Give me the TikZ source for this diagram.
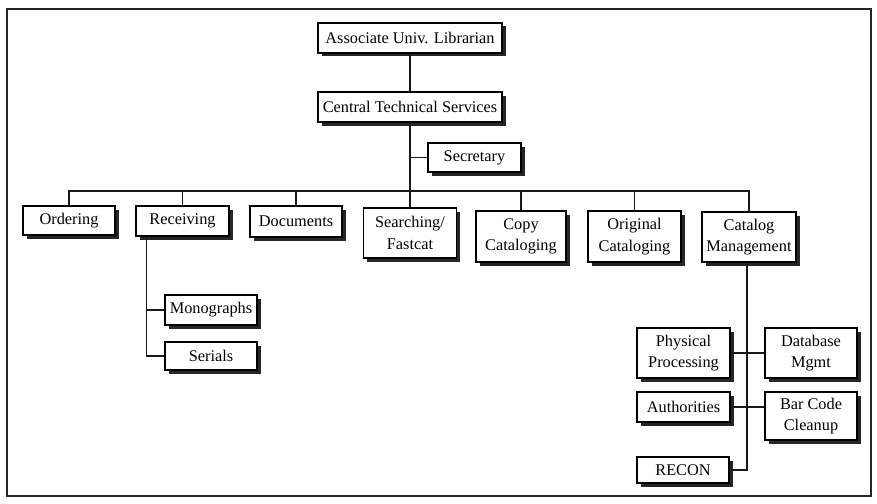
\documentclass[tikz,border=0pt]{standalone}
\usepackage{fontspec}
\setmainfont{Liberation Serif}
\usetikzlibrary{shadows}
\begin{document}
\begin{tikzpicture}[x=1pt,y=-1pt,
  unit/.style={draw=black, line width=1.2pt, fill=white, inner sep=0pt, align=center,
    font=\fontsize{16.3}{21.5}\selectfont, minimum width=92pt,
    general shadow={fill=black!85, shadow xshift=3.5pt, shadow yshift=-3.5pt}},
  link/.style={line width=1.8pt, draw=black!90}]
\useasboundingbox (0,0) rectangle (877,503);
% outer frame
\draw[line width=1.5pt, black!85] (7,9) rectangle (871,496);

% top of the chart
\node[unit, minimum width=184pt, minimum height=30pt] (aul) at (410,38) {Associate Univ. Librarian};
\node[unit, minimum width=184pt, minimum height=30pt] (cts) at (410,107) {Central Technical Services};
\node[unit, minimum width=93pt, minimum height=29pt] (sec) at (474.5,157.5) {Secretary};

% units under Central Technical Services
\node[unit, minimum height=29pt] (ord) at (69,220.5) {Ordering};
\node[unit, minimum width=93pt, minimum height=30pt] (rec) at (182.5,221) {Receiving};
\node[unit, minimum height=31pt] (doc) at (296,221.5) {Documents};
\node[unit, minimum width=93pt, minimum height=50pt] (sea) at (410,233) {Searching/\\Fastcat};
\node[unit, minimum width=90pt, minimum height=51pt] (copy) at (521,236.5) {Copy\\Cataloging};
\node[unit, minimum width=93pt, minimum height=51pt] (orig) at (634.5,236.5) {Original\\Cataloging};
\node[unit, minimum width=94pt, minimum height=50pt] (catm) at (749,237) {Catalog\\Management};

% Receiving sections
\node[unit, minimum height=30pt] (mono) at (211,310) {Monographs};
\node[unit, minimum height=28pt] (ser) at (211,356) {Serials};

% Catalog Management sections
\node[unit, minimum width=93pt, minimum height=50pt] (phys) at (683.5,353) {Physical\\Processing};
\node[unit, minimum width=93pt, minimum height=30pt] (auth) at (683.5,407) {Authorities};
\node[unit, minimum height=26pt] (recon) at (683,470) {RECON};
\node[unit, minimum height=50pt] (db) at (811,353) {Database\\Mgmt};
\node[unit, minimum height=48pt] (bar) at (811,416) {Bar Code\\Cleanup};

% connectors
\coordinate (bus) at (0,191);
\draw[link] (aul.south) -- (cts.north);
\draw[link] (cts.south) -- (sea.north);
\draw[link] (sec.west) -- (sec.west -| cts.south);
\draw[link] (ord.north) -- (ord.north |- bus) -- (catm.north |- bus) -- (catm.north);
\foreach \n in {rec,doc,copy,orig}
  \draw[link] (\n.north) -- (\n.north |- bus);

\coordinate (recdrop) at ([xshift=11pt]rec.south west);
\draw[link] (recdrop) -- (recdrop |- ser.west) -- (ser.west);
\draw[link] (recdrop |- mono.west) -- (mono.west);

\coordinate (catdrop) at ([xshift=-2pt]catm.south);
\draw[link] (catdrop) -- (catdrop |- recon.east) -- (recon.east);
\draw[link] (phys.east) -- (db.west);
\draw[link] (auth.east) -- (auth.east -| bar.west);
\end{tikzpicture}
\end{document}
